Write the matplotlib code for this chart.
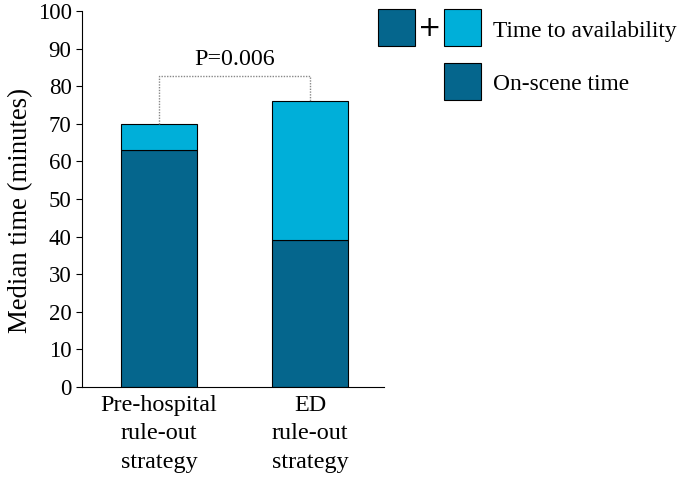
import matplotlib as mpl
import matplotlib.pyplot as plt
from matplotlib.patches import Rectangle

mpl.rcParams["font.family"] = ["Liberation Serif", "DejaVu Serif"]

DARK = "#05668D"    # on-scene time
LIGHT = "#00AFD9"   # time to availability

strategies = ["Pre-hospital\nrule-out\nstrategy", "ED\nrule-out\nstrategy"]
on_scene = [63, 39]
total_time = [70, 76]
to_availability = [t - s for t, s in zip(total_time, on_scene)]
p_label = "P=0.006"
bracket_level = 82.7

fig = plt.figure(figsize=(6.8, 4.8), dpi=100)
ax = fig.add_axes([0.1206, 0.194, 0.444, 0.783])

x = list(range(len(strategies)))
ax.bar(x, on_scene, width=0.5, color=DARK, edgecolor="black", linewidth=0.8)
ax.bar(x, to_availability, bottom=on_scene, width=0.5, color=LIGHT,
       edgecolor="black", linewidth=0.8)

# dotted bracket between the two bar tops
ax.plot([x[0], x[0], x[1], x[1]],
        [total_time[0], bracket_level, bracket_level, total_time[1]],
        color="#888888", linestyle=(0, (1, 1)), linewidth=1)
ax.text((x[0] + x[1]) / 2, bracket_level + 1.6, p_label, ha="center", va="bottom",
        fontsize=17.3)

ax.set_xlim(-0.51, 1.49)
ax.set_ylim(0, 100)
ax.set_yticks(range(0, 101, 10))
ax.set_xticks(x)
ax.set_xticklabels(strategies, fontsize=17.4, linespacing=1.45)
ax.tick_params(axis="x", length=0, pad=6)
ax.tick_params(axis="y", labelsize=16.5, direction="out", length=4, width=0.8)
ax.set_ylabel("Median time (minutes)", fontsize=19.3)
ax.yaxis.set_label_coords(-0.163, 0.47)
for side in ("top", "right"):
    ax.spines[side].set_visible(False)
for side in ("left", "bottom"):
    ax.spines[side].set_linewidth(0.8)

# legend built by hand: [dark] + [light]  Time to availability / [dark] On-scene time
def box(x0, y0, color):
    fig.patches.append(Rectangle((x0 / 680, 1 - (y0 + 37) / 480), 37 / 680, 37 / 480,
                                 transform=fig.transFigure, facecolor=color,
                                 edgecolor="black", linewidth=0.8))

box(378, 9, DARK)
box(444, 9, LIGHT)
box(444, 63, DARK)
fig.text(430 / 680, 1 - 28 / 480, "+", ha="center", va="center", fontsize=20,
         family="DejaVu Sans")
fig.text(493 / 680, 1 - 32 / 480, "Time to availability", ha="left", va="center",
         fontsize=16.8)
fig.text(493 / 680, 1 - 84 / 480, "On-scene time", ha="left", va="center",
         fontsize=16.8)

fig.savefig("out.png", dpi=100)
